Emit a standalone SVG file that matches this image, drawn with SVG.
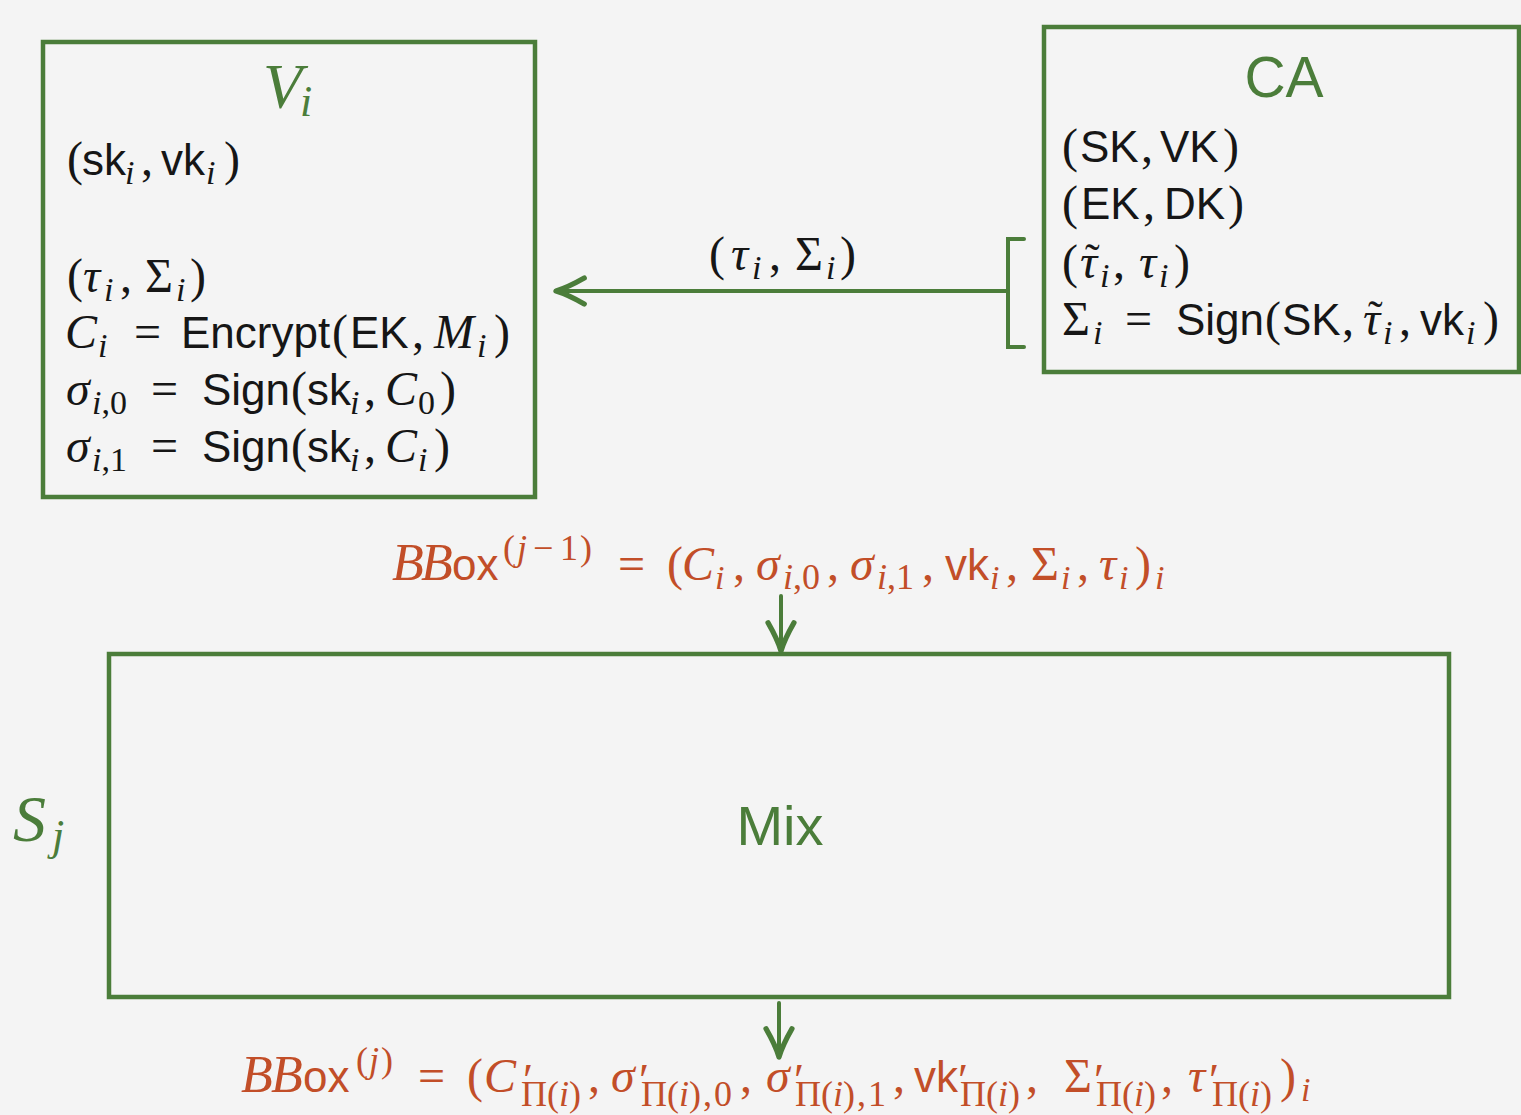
<svg xmlns="http://www.w3.org/2000/svg" width="1521" height="1115" viewBox="0 0 1521 1115">
  <style>
    .bg{fill:#f4f4f4}
    .box{fill:none;stroke:#4b7d3a;stroke-width:4.5}
    .wire{fill:none;stroke:#4b7d3a;stroke-width:4;stroke-linecap:round}
    .t{font-family:"Liberation Serif",serif;font-size:48px;fill:#161616}
    .o{fill:#c24e28}
    .gt{fill:#4b7d3a}
    .s{font-family:"Liberation Sans",sans-serif;font-size:44px;font-style:normal}
    .m{font-style:italic}
    .b{font-size:34px}
    .p{font-size:36px}
    .pr{font-size:46px}
    .cal{font-size:52px;font-style:italic}
    .tl{font-size:44px}
  </style>
  <defs>
    <marker id="head" markerUnits="userSpaceOnUse" markerWidth="40" markerHeight="40" viewBox="-30 -15 34 30" refX="0" refY="0" orient="auto">
      <path d="M-24,-11 Q-10,-3 0,0 Q-10,3 -24,11" fill="none" stroke="#4b7d3a" stroke-width="4.5" stroke-linecap="round" stroke-linejoin="round"/>
    </marker>
  </defs>
  <rect class="bg" x="0" y="0" width="1521" height="1115"/>

  <!-- voter V_i -->
  <g id="voter">
    <rect class="box" x="43" y="42" width="492" height="455"/>
    <text class="t gt m" style="font-size:64px"><tspan x="263" y="108">V</tspan><tspan x="300" y="116" style="font-size:44px">i</tspan></text>
    <text class="t"><tspan x="67" y="175">(</tspan><tspan class="s" x="82" y="175">sk</tspan><tspan class="m b" x="125" y="184">i</tspan><tspan x="141" y="175">,</tspan><tspan class="s" x="161" y="175">vk</tspan><tspan class="m b" x="206" y="184">i</tspan><tspan x="224" y="175">)</tspan></text>
    <text class="t"><tspan x="67" y="292">(</tspan><tspan class="m" x="83" y="292">τ</tspan><tspan class="m b" x="104" y="301">i</tspan><tspan x="120" y="292">,</tspan><tspan x="145" y="292">Σ</tspan><tspan class="m b" x="176" y="301">i</tspan><tspan x="190" y="292">)</tspan></text>
    <text class="t"><tspan class="m" x="65" y="348">C</tspan><tspan class="m b" x="98" y="357">i</tspan><tspan x="134" y="348">=</tspan><tspan class="s" x="181" y="348">Encrypt</tspan><tspan x="332" y="348">(</tspan><tspan class="s" x="350" y="348">EK</tspan><tspan x="412" y="348">,</tspan><tspan class="m" x="434" y="348">M</tspan><tspan class="m b" x="477" y="357">i</tspan><tspan x="494" y="348">)</tspan></text>
    <text class="t"><tspan class="m" x="66" y="405">σ</tspan><tspan class="b" x="92" y="414"><tspan class="m">i</tspan>,0</tspan><tspan x="151" y="405">=</tspan><tspan class="s" x="202" y="405">Sign</tspan><tspan x="291" y="405">(</tspan><tspan class="s" x="307" y="405">sk</tspan><tspan class="m b" x="350" y="414">i</tspan><tspan x="364" y="405">,</tspan><tspan class="m" x="385" y="405">C</tspan><tspan class="b" x="418" y="414">0</tspan><tspan x="440" y="405">)</tspan></text>
    <text class="t"><tspan class="m" x="66" y="462">σ</tspan><tspan class="b" x="92" y="471"><tspan class="m">i</tspan>,1</tspan><tspan x="151" y="462">=</tspan><tspan class="s" x="202" y="462">Sign</tspan><tspan x="291" y="462">(</tspan><tspan class="s" x="307" y="462">sk</tspan><tspan class="m b" x="350" y="471">i</tspan><tspan x="364" y="462">,</tspan><tspan class="m" x="385" y="462">C</tspan><tspan class="m b" x="418" y="471">i</tspan><tspan x="434" y="462">)</tspan></text>
  </g>

  <!-- certificate authority -->
  <g id="ca">
    <rect class="box" x="1044" y="27" width="475" height="345"/>
    <text class="s gt" x="1284" y="97" text-anchor="middle" style="font-size:57px">CA</text>
    <text class="t"><tspan x="1062" y="162">(</tspan><tspan class="s" x="1080" y="162">SK</tspan><tspan x="1141" y="162">,</tspan><tspan class="s" x="1160" y="162">VK</tspan><tspan x="1223" y="162">)</tspan></text>
    <text class="t"><tspan x="1062" y="219">(</tspan><tspan class="s" x="1081" y="219">EK</tspan><tspan x="1143" y="219">,</tspan><tspan class="s" x="1164" y="219">DK</tspan><tspan x="1228" y="219">)</tspan></text>
    <text class="t"><tspan x="1062" y="278">(</tspan><tspan class="m" x="1080" y="278">τ</tspan><tspan class="tl" x="1085" y="274">˜</tspan><tspan class="m b" x="1100" y="287">i</tspan><tspan x="1113" y="278">,</tspan><tspan class="m" x="1139" y="278">τ</tspan><tspan class="m b" x="1159" y="287">i</tspan><tspan x="1174" y="278">)</tspan></text>
    <text class="t"><tspan x="1062" y="335">Σ</tspan><tspan class="m b" x="1093" y="344">i</tspan><tspan x="1125" y="335">=</tspan><tspan class="s" x="1176" y="335">Sign</tspan><tspan x="1265" y="335">(</tspan><tspan class="s" x="1282" y="335">SK</tspan><tspan x="1342" y="335">,</tspan><tspan class="m" x="1363" y="335">τ</tspan><tspan class="tl" x="1368" y="331">˜</tspan><tspan class="m b" x="1383" y="344">i</tspan><tspan x="1399" y="335">,</tspan><tspan class="s" x="1420" y="335">vk</tspan><tspan class="m b" x="1466" y="344">i</tspan><tspan x="1483" y="335">)</tspan></text>
  </g>

  <!-- mixing server S_j -->
  <g id="mix">
    <rect class="box" x="109" y="654" width="1340" height="343"/>
    <text class="s gt" x="780" y="845" text-anchor="middle" style="font-size:56px">Mix</text>
    <text class="t gt m" style="font-size:66px"><tspan x="13" y="841">S</tspan><tspan x="52" y="850" style="font-size:44px">j</tspan></text>
  </g>

  <!-- bulletin board before mixing -->
  <g id="bbox-in">
    <text class="t o"><tspan class="cal" x="392" y="580">B</tspan><tspan class="cal" x="421" y="580">B</tspan><tspan class="s" x="452" y="580">ox</tspan><tspan class="p" x="503" y="560">(</tspan><tspan class="m p" x="517" y="560">j</tspan><tspan class="p" x="533" y="560">−</tspan><tspan class="p" x="560" y="560">1</tspan><tspan class="p" x="580" y="560">)</tspan><tspan x="618" y="580">=</tspan><tspan x="667" y="580">(</tspan><tspan class="m" x="682" y="580">C</tspan><tspan class="m b" x="715" y="589">i</tspan><tspan x="733" y="580">,</tspan><tspan class="m" x="756" y="580">σ</tspan><tspan class="p" x="783" y="589"><tspan class="m">i</tspan>,0</tspan><tspan x="827" y="580">,</tspan><tspan class="m" x="850" y="580">σ</tspan><tspan class="p" x="877" y="589"><tspan class="m">i</tspan>,1</tspan><tspan x="922" y="580">,</tspan><tspan class="s" x="945" y="580">vk</tspan><tspan class="m b" x="990" y="589">i</tspan><tspan x="1006" y="580">,</tspan><tspan x="1031" y="580">Σ</tspan><tspan class="m b" x="1061" y="589">i</tspan><tspan x="1077" y="580">,</tspan><tspan class="m" x="1099" y="580">τ</tspan><tspan class="m b" x="1119" y="589">i</tspan><tspan x="1135" y="580">)</tspan><tspan class="m b" x="1155" y="589">i</tspan></text>
  </g>

  <!-- bulletin board after mixing -->
  <g id="bbox-out">
    <text class="t o"><tspan class="cal" x="241" y="1092">B</tspan><tspan class="cal" x="271" y="1092">B</tspan><tspan class="s" x="303" y="1092">ox</tspan><tspan class="p" x="356" y="1072">(</tspan><tspan class="m p" x="369" y="1072">j</tspan><tspan class="p" x="381" y="1072">)</tspan><tspan x="418" y="1092">=</tspan><tspan x="467" y="1092">(</tspan><tspan class="m" x="484" y="1092">C</tspan><tspan class="pr" x="523" y="1096">′</tspan><tspan class="p" x="521" y="1106">Π(<tspan class="m">i</tspan>)</tspan><tspan x="588" y="1092">,</tspan><tspan class="m" x="611" y="1092">σ</tspan><tspan class="pr" x="639" y="1096">′</tspan><tspan class="p" x="641" y="1106">Π(<tspan class="m">i</tspan>)</tspan><tspan class="p" x="703" y="1106">,</tspan><tspan class="p" x="714" y="1106">0</tspan><tspan x="740" y="1092">,</tspan><tspan class="m" x="766" y="1092">σ</tspan><tspan class="pr" x="794" y="1096">′</tspan><tspan class="p" x="795" y="1106">Π(<tspan class="m">i</tspan>)</tspan><tspan class="p" x="857" y="1106">,</tspan><tspan class="p" x="868" y="1106">1</tspan><tspan x="893" y="1092">,</tspan><tspan class="s" x="914" y="1092">vk</tspan><tspan class="pr" x="958" y="1096">′</tspan><tspan class="p" x="960" y="1106">Π(<tspan class="m">i</tspan>)</tspan><tspan x="1026" y="1092">,</tspan><tspan x="1064" y="1092">Σ</tspan><tspan class="pr" x="1094" y="1096">′</tspan><tspan class="p" x="1096" y="1106">Π(<tspan class="m">i</tspan>)</tspan><tspan x="1161" y="1092">,</tspan><tspan class="m" x="1188" y="1092">τ</tspan><tspan class="pr" x="1209" y="1096">′</tspan><tspan class="p" x="1212" y="1106">Π(<tspan class="m">i</tspan>)</tspan><tspan x="1280" y="1092">)</tspan><tspan class="m b" x="1301" y="1101">i</tspan></text>
  </g>

  <!-- connectors -->
  <g id="connectors">
    <path class="wire" d="M1024,239 H1008 V347 H1024"/>
    <path class="wire" d="M1008,291 L556,291" marker-end="url(#head)"/>
    <text class="t"><tspan x="709" y="270">(</tspan><tspan class="m" x="731" y="270">τ</tspan><tspan class="m b" x="752" y="279">i</tspan><tspan x="769" y="270">,</tspan><tspan x="795" y="270">Σ</tspan><tspan class="m b" x="826" y="279">i</tspan><tspan x="840" y="270">)</tspan></text>
    <path class="wire" d="M781,596 L781,651" marker-end="url(#head)"/>
    <path class="wire" d="M779,1003 L779,1057" marker-end="url(#head)"/>
  </g>
</svg>
